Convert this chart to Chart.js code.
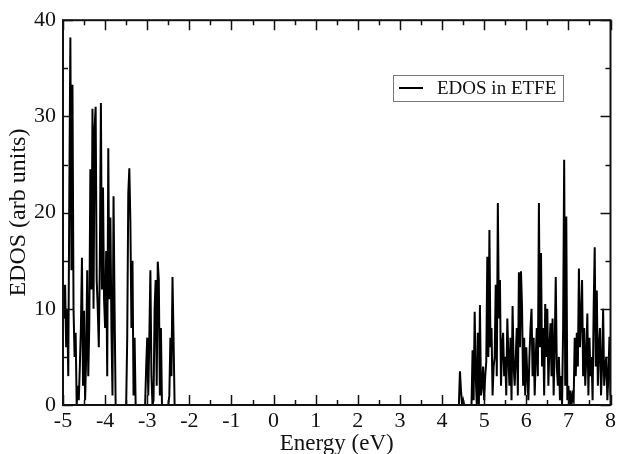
<!DOCTYPE html>
<html>
<head>
<meta charset="utf-8">
<script src="https://cdn.jsdelivr.net/npm/chart.js@4"></script>
<style>
  html, body { margin: 0; padding: 0; background: #fff; }
  #wrap { width: 619px; height: 454px; }
</style>
</head>
<body>
<div id="wrap"><canvas id="dosChart" width="619" height="454"></canvas></div>
<script>
// energy grid (eV) and EDOS values
const energy = [
  -5.000, -4.975, -4.950, -4.925, -4.900, -4.875, -4.850, -4.825, -4.800, -4.775,
  -4.750, -4.725, -4.700, -4.675, -4.650, -4.625, -4.600, -4.575, -4.550, -4.525,
  -4.500, -4.475, -4.450, -4.425, -4.400, -4.375, -4.350, -4.325, -4.300, -4.275,
  -4.250, -4.225, -4.200, -4.175, -4.150, -4.125, -4.100, -4.075, -4.050, -4.025,
  -4.000, -3.975, -3.950, -3.925, -3.900, -3.875, -3.850, -3.825, -3.800, -3.775,
  -3.750, -3.500, -3.475, -3.450, -3.425, -3.400, -3.375, -3.350, -3.325, -3.300,
  -3.275, -3.050, -3.025, -3.000, -2.975, -2.950, -2.925, -2.900, -2.875, -2.850,
  -2.825, -2.800, -2.775, -2.750, -2.725, -2.700, -2.675, -2.650, -2.500, -2.475,
  -2.450, -2.425, -2.400, -2.375, -2.350,
  4.400, 4.425, 4.450, 4.475, 4.500, 4.525, 4.700, 4.725, 4.750, 4.775,
  4.800, 4.825, 4.850, 4.875, 4.900, 4.925, 4.950, 4.975, 5.000, 5.025,
  5.050, 5.075, 5.100, 5.125, 5.150, 5.175, 5.200, 5.225, 5.250, 5.275,
  5.300, 5.325, 5.350, 5.375, 5.400, 5.425, 5.450, 5.475, 5.500, 5.525,
  5.550, 5.575, 5.600, 5.625, 5.650, 5.675, 5.700, 5.725, 5.750, 5.775,
  5.800, 5.825, 5.850, 5.875, 5.900, 5.925, 5.950, 5.975, 6.000, 6.025,
  6.050, 6.075, 6.100, 6.125, 6.150, 6.175, 6.200, 6.225, 6.250, 6.275,
  6.300, 6.325, 6.350, 6.375, 6.400, 6.425, 6.450, 6.475, 6.500, 6.525,
  6.550, 6.575, 6.600, 6.625, 6.650, 6.675, 6.700, 6.725, 6.750, 6.775,
  6.800, 6.825, 6.850, 6.875, 6.900, 6.925, 6.950, 6.975, 7.000, 7.025,
  7.050, 7.075, 7.100, 7.125, 7.150, 7.175, 7.200, 7.225, 7.250, 7.275,
  7.300, 7.325, 7.350, 7.375, 7.400, 7.425, 7.450, 7.475, 7.500, 7.525,
  7.550, 7.575, 7.600, 7.625, 7.650, 7.675, 7.700, 7.725, 7.750, 7.775,
  7.800, 7.825, 7.850, 7.875, 7.900, 7.925, 7.950, 7.975, 8.000
];
const edos = [
  12, 9, 12.5, 6, 10, 3, 22, 38.2, 14, 33.3,
  10, 5, 7.5, 0, 2, 0.5, 4, 8, 15.3, 2,
  9.8, 0.5, 5, 14, 3, 8.5, 24.5, 12, 30.8, 10,
  28.8, 31, 13, 10, 6, 15, 31.4, 12, 22.6, 11,
  8, 16, 3, 26.7, 11, 19.5, 8, 1, 21.7, 10,
  0, 0, 7, 22, 24.6, 19, 8, 15, 1, 7,
  0, 0, 4, 7, 1, 7, 14, 3, 0, 0.5,
  10, 13, 2, 14.9, 13, 1, 8, 0, 0, 1,
  7, 3, 13.3, 7, 0,
  0, 3.5, 1.5, 0, 0.5, 0, 0, 5.7, 0.5, 9.7,
  3, 0, 7.5, 0, 10.4, 1, 2, 4, 0.5, 3,
  4.5, 15.4, 5, 18.2, 6, 8, 1, 4, 5, 12.5,
  3, 21, 9, 13, 2, 6, 7.5, 3, 5, 1,
  9, 5, 2, 7, 0.5, 10.3, 4, 2, 5, 8,
  1, 13.8, 6, 13.9, 10, 2, 7, 1, 6, 3,
  0.5, 5, 8, 10, 3, 7, 1, 5, 8, 3,
  21, 6, 15.8, 4, 8, 1, 10.5, 5, 10, 2,
  6, 8.5, 3, 9, 1, 6, 13.3, 4, 2, 5,
  0.5, 3, 0, 8, 25.5, 2, 19.6, 0.5, 2, 0,
  1.5, 0, 1, 0.5, 7, 3, 7.5, 4, 14.2, 6,
  9, 13, 3, 8, 2, 5, 9.5, 1, 7, 3,
  5, 0.5, 10, 16.4, 4, 11.9, 2, 6, 8, 1,
  4, 10, 2, 4, 5, 0.5, 3, 7.1, 1, 7
];
const xTicks = [-5, -4, -3, -2, -1, 0, 1, 2, 3, 4, 5, 6, 7, 8];
const yTicks = [0, 10, 20, 30, 40];
const seriesName = 'EDOS in ETFE';

const serif = '"Liberation Serif", "DejaVu Serif", serif';

const points = energy.map((e, i) => ({ x: e, y: edos[i] }));

// frame + inward ticks on all four sides, plus the boxed legend
const framePlugin = {
  id: 'frame',
  afterDatasetsDraw(chart) {
    const ctx = chart.ctx;
    const a = chart.chartArea;
    const xs = chart.scales.x, ys = chart.scales.y;
    ctx.save();
    ctx.strokeStyle = '#111';
    ctx.lineWidth = 1.5;
    ctx.beginPath();
    for (let k = -10; k <= 16; k++) {
      const v = k / 2;
      const px = Math.round(xs.getPixelForValue(v)) + 0.5;
      const len = k % 2 === 0 ? 10 : 5;
      ctx.moveTo(px, a.bottom); ctx.lineTo(px, a.bottom - len);
      ctx.moveTo(px, a.top); ctx.lineTo(px, a.top + len);
    }
    for (let v = 0; v <= 40; v += 5) {
      const py = Math.round(ys.getPixelForValue(v)) + 0.5;
      const len = v % 10 === 0 ? 10 : 5;
      ctx.moveTo(a.left, py); ctx.lineTo(a.left + len, py);
      ctx.moveTo(a.right, py); ctx.lineTo(a.right - len, py);
    }
    ctx.stroke();
    ctx.lineWidth = 2;
    ctx.strokeRect(a.left, a.top, a.right - a.left, a.bottom - a.top);

    // legend box
    ctx.lineWidth = 1;
    ctx.strokeStyle = '#777';
    ctx.fillStyle = '#fff';
    ctx.fillRect(393.5, 75.5, 170, 26);
    ctx.strokeRect(393.5, 75.5, 170, 26);
    ctx.strokeStyle = '#000';
    ctx.lineWidth = 2;
    ctx.beginPath();
    ctx.moveTo(399, 88); ctx.lineTo(423, 88);
    ctx.stroke();
    ctx.fillStyle = '#111';
    ctx.font = '19px ' + serif;
    ctx.textBaseline = 'middle';
    ctx.fillText(chart.data.datasets[0].label, 437, 89);
    ctx.restore();
  }
};

new Chart(document.getElementById('dosChart'), {
  type: 'line',
  data: {
    datasets: [{
      label: seriesName,
      data: points,
      borderColor: '#000',
      borderWidth: 2,
      pointRadius: 0,
      tension: 0,
      fill: false
    }]
  },
  options: {
    responsive: false,
    animation: false,
    layout: { padding: { top: 20, right: 6, left: 0, bottom: 0 } },
    plugins: {
      legend: { display: false },
      tooltip: { enabled: false }
    },
    scales: {
      x: {
        type: 'linear',
        min: -5, max: 8,
        afterFit(scale) { scale.height = 49; },
        afterBuildTicks(scale) { scale.ticks = xTicks.map(v => ({ value: v })); },
        grid: { display: false, drawTicks: false },
        border: { display: false },
        ticks: {
          color: '#111',
          padding: 3,
          maxRotation: 0,
          autoSkip: false,
          font: { family: serif, size: 22 }
        },
        title: {
          display: true,
          text: 'Energy (eV)',
          color: '#111',
          padding: { top: 0, bottom: -4 },
          font: { family: serif, size: 23 }
        }
      },
      y: {
        type: 'linear',
        min: 0, max: 40,
        afterFit(scale) { scale.width = 63; },
        afterBuildTicks(scale) { scale.ticks = yTicks.map(v => ({ value: v })); },
        grid: { display: false, drawTicks: false },
        border: { display: false },
        ticks: {
          color: '#111',
          padding: 7,
          font: { family: serif, size: 22 }
        },
        title: {
          display: true,
          text: 'EDOS (arb units)',
          color: '#111',
          padding: { top: 4, bottom: 0 },
          font: { family: serif, size: 24 }
        }
      }
    }
  },
  plugins: [framePlugin]
});
</script>
</body>
</html>
